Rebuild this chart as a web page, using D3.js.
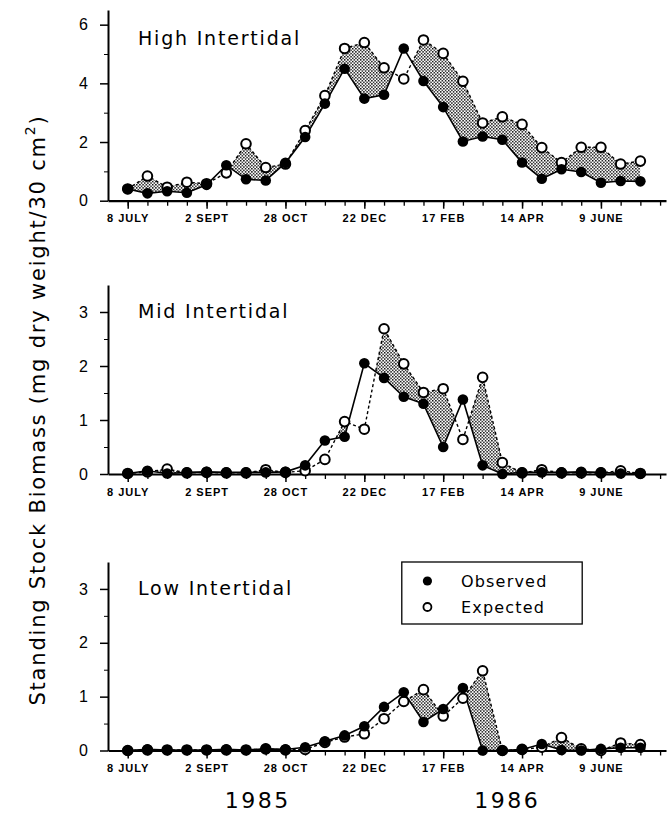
<!DOCTYPE html>
<html>
<head>
<meta charset="utf-8">
<script src="https://cdn.jsdelivr.net/npm/d3@7"></script>
<style>
  body { margin: 0; background: #fff; }
  svg { display: block; font-family: "DejaVu Sans", sans-serif; }
</style>
</head>
<body>
<div id="app"></div>
<script>
// biweekly samples, 8 July 1985 .. mid July 1986 (index 0..26)
const tickLabels = ["8 JULY", "2 SEPT", "28 OCT", "22 DEC", "17 FEB", "14 APR", "9 JUNE"];
const tickIndex = [0, 4, 8, 12, 16, 20, 24];
const years = ["1985", "1986"];
const yearIndex = [6.6, 19.25];

const highObserved = [0.40, 0.25, 0.32, 0.27, 0.54, 1.21, 0.73, 0.69, 1.29, 2.17, 3.31, 4.50, 3.48, 3.61,
  5.19, 4.08, 3.19, 2.02, 2.19, 2.08, 1.30, 0.75, 1.07, 0.98, 0.61, 0.67, 0.66];
const highExpected = [0.40, 0.84, 0.46, 0.63, 0.58, 0.95, 1.94, 1.13, 1.25, 2.39, 3.58, 5.19, 5.39, 4.53,
  4.15, 5.48, 5.02, 4.07, 2.65, 2.86, 2.60, 1.81, 1.30, 1.82, 1.82, 1.25, 1.35];

const midObserved = [0.01, 0.06, 0.01, 0.03, 0.04, 0.03, 0.03, 0.03, 0.04, 0.16, 0.62, 0.69, 2.05, 1.78,
  1.43, 1.30, 0.50, 1.38, 0.16, 0.00, 0.03, 0.03, 0.03, 0.04, 0.03, 0.01, 0.01];
const midExpected = [0.01, 0.04, 0.09, 0.02, 0.03, 0.02, 0.02, 0.08, 0.03, 0.06, 0.27, 0.97, 0.83, 2.69,
  2.04, 1.51, 1.58, 0.64, 1.79, 0.21, 0.02, 0.08, 0.02, 0.02, 0.02, 0.06, 0.01];

const lowObserved = [0.00, 0.02, 0.01, 0.01, 0.01, 0.02, 0.01, 0.03, 0.02, 0.06, 0.17, 0.28, 0.45, 0.81,
  1.08, 0.53, 0.77, 1.16, 0.00, 0.00, 0.02, 0.12, 0.01, 0.00, 0.03, 0.05, 0.05];
const lowExpected = [0.00, 0.01, 0.01, 0.01, 0.01, 0.01, 0.01, 0.03, 0.01, 0.02, 0.15, 0.25, 0.31, 0.59,
  0.91, 1.13, 0.64, 0.97, 1.48, 0.00, 0.02, 0.06, 0.24, 0.03, 0.00, 0.14, 0.11];

const panels = [
  {title: "High Intertidal", obs: highObserved, exp: highExpected, max: 6.5, major: [0, 2, 4, 6], minor: [1, 3, 5], top: 10, bottom: 200.7},
  {title: "Mid Intertidal", obs: midObserved, exp: midExpected, max: 3.5, major: [0, 1, 2, 3], minor: [0.5, 1.5, 2.5], top: 285, bottom: 474},
  {title: "Low Intertidal", obs: lowObserved, exp: lowExpected, max: 3.5, major: [0, 1, 2, 3], minor: [0.5, 1.5, 2.5], top: 562, bottom: 750.5}
];

const W = 667, H = 813;
const svg = d3.select('#app').append('svg')
  .attr('width', W).attr('height', H);

// stipple pattern for the shaded difference
const defs = svg.append('defs');
const pat = defs.append('pattern')
  .attr('id', 'stipple')
  .attr('width', 3.2).attr('height', 3.2)
  .attr('patternUnits', 'userSpaceOnUse');
pat.append('rect').attr('x', 0).attr('y', 0).attr('width', 1.4).attr('height', 1.4).attr('fill', '#000');
pat.append('rect').attr('x', 1.6).attr('y', 1.6).attr('width', 1.4).attr('height', 1.4).attr('fill', '#000');

const x = d3.scaleLinear().domain([-1, 27.3]).range([108, 666]);
const idx = d3.range(highObserved.length);

panels.forEach((p, i) => {
  const y = d3.scaleLinear().domain([0, p.max]).range([p.bottom, p.top]);
  const g = svg.append('g');

  // clip: everything above the observed line
  defs.append('clipPath').attr('id', 'above' + i)
    .append('path')
    .attr('d', d3.area().x(d => x(d)).y0(0).y1(d => y(p.obs[d]))(idx));

  g.append('path')
    .attr('clip-path', `url(#above${i})`)
    .attr('fill', 'url(#stipple)')
    .attr('d', d3.area().x(d => x(d)).y0(d => y(p.obs[d])).y1(d => y(p.exp[d]))(idx));

  // y axis
  g.append('g')
    .attr('transform', `translate(${x(-1)},0)`)
    .call(d3.axisLeft(y).tickValues(p.minor).tickSize(4).tickFormat('').tickSizeOuter(0))
    .call(a => a.select('.domain').remove());
  g.append('g')
    .attr('transform', `translate(${x(-1)},0)`)
    .call(d3.axisLeft(y).tickValues(p.major).tickSize(8).tickPadding(12).tickSizeOuter(0)
      .tickFormat(d3.format('d')))
    .call(a => a.select('.domain').attr('stroke-width', 2))
    .call(a => a.selectAll('line').attr('stroke-width', 1.5))
    .call(a => a.selectAll('text').attr('font-size', 16).attr('fill', '#000'));

  // x axis
  g.append('g')
    .attr('transform', `translate(0,${p.bottom})`)
    .call(d3.axisBottom(x).tickValues(d3.range(0, 28)).tickSize(5).tickFormat('').tickSizeOuter(0))
    .call(a => a.select('.domain').remove())
    .call(a => a.selectAll('line').attr('stroke-width', 1.3));
  g.append('g')
    .attr('transform', `translate(0,${p.bottom})`)
    .call(d3.axisBottom(x).tickValues(tickIndex).tickSize(8).tickPadding(6).tickSizeOuter(0)
      .tickFormat((d, k) => tickLabels[k]))
    .call(a => a.select('.domain').attr('stroke-width', 2.2))
    .call(a => a.selectAll('line').attr('stroke-width', 1.5))
    .call(a => a.selectAll('text').attr('font-size', 11).attr('font-weight', 'bold')
      .attr('letter-spacing', 1).attr('fill', '#000'));

  // lines
  g.append('path')
    .attr('fill', 'none').attr('stroke', '#000').attr('stroke-width', 1.4)
    .attr('stroke-dasharray', '3,2.5')
    .attr('d', d3.line().x(d => x(d)).y(d => y(p.exp[d]))(idx));
  g.append('path')
    .attr('fill', 'none').attr('stroke', '#000').attr('stroke-width', 1.6)
    .attr('d', d3.line().x(d => x(d)).y(d => y(p.obs[d]))(idx));

  // markers
  g.selectAll('.exp').data(idx).join('circle')
    .attr('cx', d => x(d)).attr('cy', d => y(p.exp[d])).attr('r', 4.8)
    .attr('fill', '#fff').attr('stroke', '#000').attr('stroke-width', 2);
  g.selectAll('.obs').data(idx).join('circle')
    .attr('cx', d => x(d)).attr('cy', d => y(p.obs[d])).attr('r', 5.3)
    .attr('fill', '#000');

  // panel title
  g.append('text')
    .attr('x', 138).attr('y', p.top + (i === 0 ? 35 : 33))
    .attr('font-size', 19).attr('letter-spacing', 1.8)
    .text(p.title);
});

// legend in the bottom panel
const legend = svg.append('g');
legend.append('rect')
  .attr('x', x(13.9)).attr('y', 562)
  .attr('width', x(23.05) - x(13.9)).attr('height', 62)
  .attr('fill', '#fff').attr('stroke', '#000').attr('stroke-width', 1.3);
legend.append('circle').attr('cx', x(15.2)).attr('cy', 581).attr('r', 4.6).attr('fill', '#000');
legend.append('circle').attr('cx', x(15.2)).attr('cy', 607).attr('r', 4).attr('fill', '#fff')
  .attr('stroke', '#000').attr('stroke-width', 1.8);
legend.append('text').attr('x', x(16.9)).attr('y', 587).attr('font-size', 16).attr('letter-spacing', 1.2).text('Observed');
legend.append('text').attr('x', x(16.9)).attr('y', 613).attr('font-size', 16).attr('letter-spacing', 1.2).text('Expected');

// years
svg.selectAll('.year').data(years).join('text')
  .attr('x', (d, k) => x(yearIndex[k])).attr('y', 808)
  .attr('text-anchor', 'middle').attr('font-size', 22).attr('letter-spacing', 2.5)
  .text(d => d);

// y axis title
const yt = svg.append('text')
  .attr('transform', 'translate(45,410) rotate(-90)')
  .attr('text-anchor', 'middle').attr('font-size', 21).attr('letter-spacing', 1.8);
yt.append('tspan').text('Standing Stock Biomass (mg dry weight/30 cm');
yt.append('tspan').attr('font-size', 14).attr('dy', -10).text('2');
yt.append('tspan').attr('dy', 10).text(')');
</script>
</body>
</html>
